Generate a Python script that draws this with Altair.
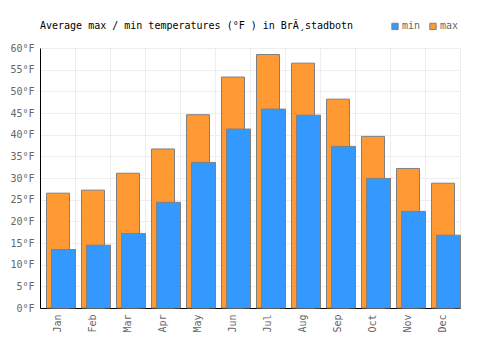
import altair as alt
import pandas as pd

months = ["Jan", "Feb", "Mar", "Apr", "May", "Jun", "Jul", "Aug", "Sep", "Oct", "Nov", "Dec"]
max_temps = [26.5, 27.2, 31.1, 36.7, 44.6, 53.3, 58.5, 56.5, 48.2, 39.6, 32.2, 28.8]
min_temps = [13.5, 14.5, 17.2, 24.4, 33.6, 41.3, 45.9, 44.5, 37.3, 29.9, 22.3, 16.8]

rows = []
for m, v in zip(months, max_temps):
    rows.append({"month": m, "series": "max", "temp": v})
for m, v in zip(months, min_temps):
    rows.append({"month": m, "series": "min", "temp": v})
df = pd.DataFrame(rows)

FONT = "DejaVu Sans Mono"

x = alt.X("month:N", sort=months, title=None,
          scale=alt.Scale(paddingInner=0, paddingOuter=0),
          axis=alt.Axis(labelAngle=-90, tickBand="extent", grid=True, gridColor="#eeeeee",
                        ticks=False, domainColor="black", labelFont=FONT, labelFontSize=10,
                        labelColor="#666666", labelPadding=6))
y = alt.Y("temp:Q", title=None,
          scale=alt.Scale(domain=[0, 60], nice=False),
          axis=alt.Axis(values=list(range(0, 61, 5)), labelExpr="datum.value + '°F'",
                        grid=True, gridColor="#eeeeee", ticks=False, domainColor="black",
                        labelFont=FONT, labelFontSize=10, labelColor="#666666", labelPadding=6))
color = alt.Color("series:N", scale=alt.Scale(domain=["min", "max"], range=["#3399ff", "#ff9933"]),
                  legend=alt.Legend(title=None, orient="none", direction="horizontal",
                                    legendX=350, legendY=-27, symbolType="square", symbolSize=40,
                                    symbolStrokeColor="#808080", symbolStrokeWidth=1,
                                    labelFont=FONT, labelFontSize=10, labelColor="#666666",
                                    columnPadding=6, labelOffset=2))

base = alt.Chart(df).encode(x=x, y=y, color=color)
bars_max = base.transform_filter("datum.series == 'max'").mark_bar(
    size=23, xOffset=0.5, stroke="#808080", strokeWidth=1, opacity=1)
bars_min = base.transform_filter("datum.series == 'min'").mark_bar(
    size=24, xOffset=6, stroke="#808080", strokeWidth=1, opacity=1)

chart = alt.layer(bars_max, bars_min).properties(
    width=420, height=260,
    autosize=alt.AutoSizeParams(type="none"),
    padding={"left": 40, "top": 48, "right": 40, "bottom": 42},
    title=alt.TitleParams("Average max / min temperatures (°F ) in BrÃ¸stadbotn",
                          anchor="start", frame="group", font=FONT, fontSize=10,
                          fontWeight="normal", color="black", offset=-10),
).configure_view(stroke=None)

chart.save("out.html", embed_options={"renderer": "svg", "actions": False})
